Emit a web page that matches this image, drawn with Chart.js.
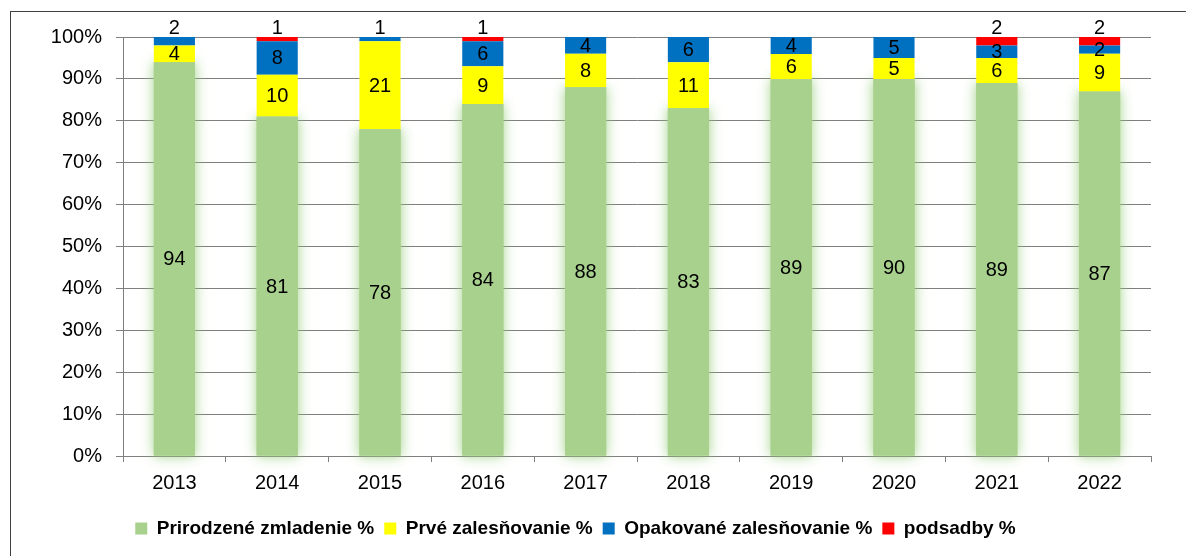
<!DOCTYPE html>
<html lang="sk">
<head>
    <meta charset="UTF-8">
    <title>Spôsob obnovy lesa 2013-2022</title>
    <style>
        body {
            margin: 0;
            background-color: #fff;
        }
        .container {
            width: 1186px;
            height: 556px;
            position: relative;
        }
    </style>
</head>
<body>
    <div class="container">
        <canvas id="renewChart"></canvas>
    </div>

    <script src="https://cdn.jsdelivr.net/npm/chart.js"></script>

    <script>
        // Years on the x axis
        const years = ['2013', '2014', '2015', '2016', '2017', '2018', '2019', '2020', '2021', '2022'];

        // Shares in % as printed on the bars
        const prirodzene = [94, 81, 78, 84, 88, 83, 89, 90, 89, 87];
        const prve = [4, 10, 21, 9, 8, 11, 6, 5, 6, 9];
        const opakovane = [2, 8, 1, 6, 4, 6, 4, 5, 3, 2];
        const podsadby = [0, 1, 0, 1, 0, 0, 0, 0, 2, 2];

        const seriesNames = ['Prirodzené zmladenie %', 'Prvé zalesňovanie %', 'Opakované zalesňovanie %', 'podsadby %'];
        const seriesColors = ['#A9D18E', '#FFFF00', '#0070C0', '#FF0000'];
        const yTicks = [0, 10, 20, 30, 40, 50, 60, 70, 80, 90, 100];

        const raw = [prirodzene, prve, opakovane, podsadby];

        // 100% stacked: scale each year to its total (2019 sums to 99)
        const totals = years.map((y, i) => raw.reduce((s, arr) => s + arr[i], 0));
        const pct = raw.map(arr => arr.map((v, i) => v / totals[i] * 100));

        const FONT = "'Liberation Sans', Arial, sans-serif";

        // outer frame of the chart object
        const framePlugin = {
            id: 'frame',
            beforeDraw(chart) {
                const ctx = chart.ctx;
                ctx.save();
                ctx.strokeStyle = '#404040';
                ctx.lineWidth = 1;
                ctx.strokeRect(10.5, 11.5, chart.width + 20, chart.height + 20);
                ctx.restore();
            }
        };

        // soft green glow behind the first series
        const glowPlugin = {
            id: 'glow',
            beforeDatasetsDraw(chart) {
                const ctx = chart.ctx;
                const meta = chart.getDatasetMeta(0);
                ctx.save();
                ctx.fillStyle = seriesColors[0];
                ctx.shadowColor = 'rgba(150, 205, 120, 0.9)';
                ctx.shadowBlur = 12;
                meta.data.forEach(bar => {
                    const p = bar.getProps(['x', 'y', 'base', 'width'], true);
                    ctx.fillRect(p.x - p.width / 2, p.y, p.width, p.base - p.y);
                });
                ctx.restore();
            }
        };

        // value labels inside the segments, small top segments above the bar
        const labelPlugin = {
            id: 'valueLabels',
            afterDatasetsDraw(chart) {
                const ctx = chart.ctx;
                ctx.save();
                ctx.font = '20px ' + FONT;
                ctx.fillStyle = '#000';
                ctx.textAlign = 'center';
                ctx.textBaseline = 'middle';
                years.forEach((y, j) => {
                    let topIdx = -1;
                    raw.forEach((arr, i) => { if (arr[j] > 0) topIdx = i; });
                    raw.forEach((arr, i) => {
                        const v = arr[j];
                        if (!v) return;
                        const bar = chart.getDatasetMeta(i).data[j];
                        const p = bar.getProps(['x', 'y', 'base'], true);
                        let ty = (p.y + p.base) / 2;
                        if (i === topIdx && v <= 2) ty = p.y - 10;
                        ctx.fillText(String(v), p.x, ty + 1);
                    });
                });
                ctx.restore();
            }
        };

        const ctx = document.getElementById('renewChart').getContext('2d');
        const renewChart = new Chart(ctx, {
            type: 'bar',
            data: {
                labels: years,
                datasets: seriesNames.map((name, i) => ({
                    label: name,
                    data: pct[i],
                    backgroundColor: seriesColors[i],
                    borderWidth: 0,
                    categoryPercentage: 1,
                    barPercentage: 0.4
                }))
            },
            options: {
                responsive: true,
                maintainAspectRatio: false,
                animation: false,
                layout: {
                    padding: { left: 0, top: 37, right: 35, bottom: 8 }
                },
                plugins: {
                    tooltip: { enabled: false },
                    legend: {
                        position: 'bottom',
                        labels: {
                            boxWidth: 12,
                            boxHeight: 12,
                            padding: 10,
                            color: '#000',
                            font: { family: FONT, size: 19, weight: 'bold' }
                        }
                    }
                },
                scales: {
                    x: {
                        stacked: true,
                        border: { color: '#7f7f7f', width: 1 },
                        grid: {
                            offset: true,
                            drawOnChartArea: false,
                            tickLength: 6,
                            color: '#7f7f7f'
                        },
                        ticks: {
                            color: '#000',
                            padding: 9,
                            font: { family: FONT, size: 20 }
                        },
                        afterFit(scale) { scale.height = 53; }
                    },
                    y: {
                        stacked: true,
                        min: 0,
                        max: 100,
                        border: { color: '#7f7f7f', width: 1 },
                        grid: {
                            color: '#7f7f7f',
                            tickLength: 7
                        },
                        afterBuildTicks(scale) {
                            scale.ticks = yTicks.map(v => ({ value: v }));
                        },
                        ticks: {
                            color: '#000',
                            padding: 14,
                            font: { family: FONT, size: 20 },
                            callback: value => value + '%'
                        },
                        afterFit(scale) { scale.width = 123; }
                    }
                }
            },
            plugins: [framePlugin, glowPlugin, labelPlugin]
        });
    </script>
</body>
</html>
